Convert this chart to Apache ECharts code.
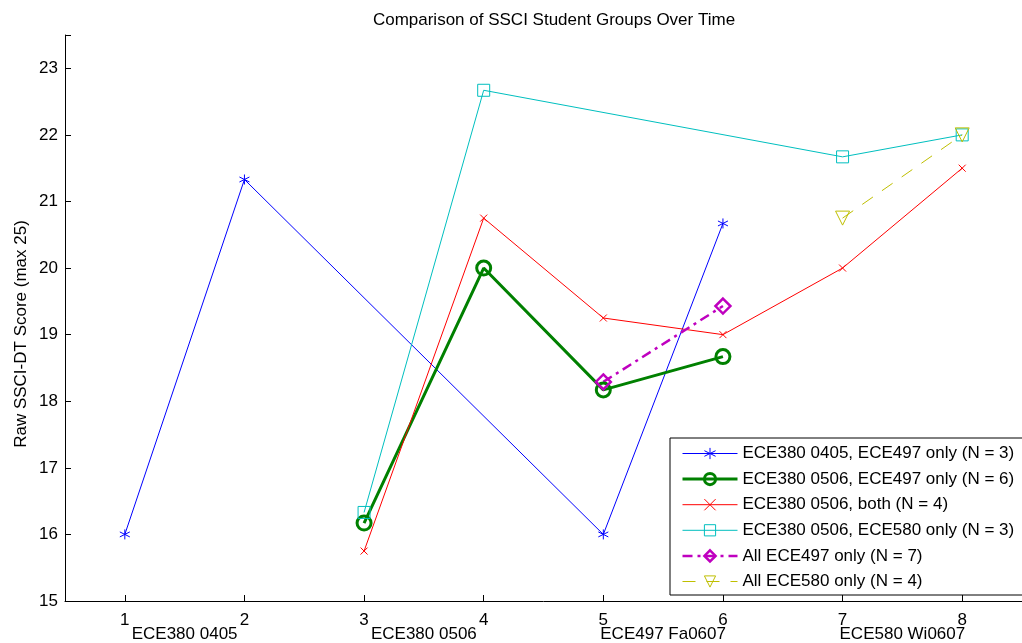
<!DOCTYPE html>
<html>
<head>
<meta charset="utf-8">
<script src="https://cdn.jsdelivr.net/npm/echarts@6/dist/echarts.min.js"></script>
<style>html,body{margin:0;padding:0;background:#fff}#c{width:1022px;height:643px}</style>
</head>
<body>
<div id="c"></div>
<script>
const xTicks = [1, 2, 3, 4, 5, 6, 7, 8];
const periodPositions = [1.5, 3.5, 5.5, 7.5];
const periodLabels = ['ECE380 0405', 'ECE380 0506', 'ECE497 Fa0607', 'ECE580 Wi0607'];
const titleText = 'Comparison of SSCI Student Groups Over Time';
const yName = 'Raw SSCI-DT Score (max 25)';
const seriesNames = [
  'ECE380 0405, ECE497 only (N = 3)',
  'ECE380 0506, ECE497 only (N = 6)',
  'ECE380 0506, both (N = 4)',
  'ECE380 0506, ECE580 only (N = 3)',
  'All ECE497 only (N = 7)',
  'All ECE580 only (N = 4)'
];
const s1x = [1, 2, 5, 6];       const s1y = [16, 21.33, 16, 20.67];
const s2x = [3, 4, 5, 6];       const s2y = [16.17, 20, 18.17, 18.67];
const s3x = [3, 4, 5, 6, 7, 8]; const s3y = [15.75, 20.75, 19.25, 19, 20, 21.5];
const s4x = [3, 4, 7, 8];       const s4y = [16.33, 22.67, 21.67, 22];
const s5x = [5, 6];             const s5y = [18.29, 19.43];
const s6x = [7, 8];             const s6y = [20.75, 22];

const pair = (xs, ys) => xs.map((x, i) => [x, ys[i]]);
const asterisk = 'path://M0,-10L0,10M-8.66,-5L8.66,5M-8.66,5L8.66,-5';
const cross = 'path://M-10,-10L10,10M-10,10L10,-10';

function mk(name, data, color, width, symbol, size, dash, extra) {
  return Object.assign({
    name: name, type: 'line', data: data,
    symbol: symbol, symbolSize: size,
    lineStyle: {color: color, width: width, type: dash},
    itemStyle: {color: 'rgba(255,255,255,0)', borderColor: color, borderWidth: width},
    emphasis: {disabled: true},
    z: 3
  }, extra || {});
}

const chart = echarts.init(document.getElementById('c'), null, {renderer: 'canvas'});
const font = 'Liberation Sans, Arial, Helvetica, sans-serif';
const FS = 17;
chart.setOption({
  animation: false,
  backgroundColor: '#fff',
  textStyle: {fontFamily: font},
  title: {
    text: titleText,
    left: 549, top: 7, textAlign: 'center',
    textStyle: {fontSize: FS, fontWeight: 'normal', color: '#000', fontFamily: font}
  },
  grid: {left: 65, top: 35, width: 960, height: 567, containLabel: false},
  legend: {
    orient: 'vertical', left: 670, top: 438,
    padding: [7, 40, 5, 11],
    itemWidth: 55, itemHeight: 14, itemGap: 8.6,
    backgroundColor: '#fff', borderColor: '#000', borderWidth: 1,
    lineStyle: {width: 'inherit'},
    itemStyle: {borderWidth: 'inherit'},
    textStyle: {fontSize: FS, color: '#000', fontFamily: font},
    data: seriesNames
  },
  graphic: [{
    type: 'text', x: 21, y: 334, rotation: Math.PI / 2,
    style: {text: yName, font: FS + 'px ' + font, fill: '#000', align: 'center', verticalAlign: 'middle'}
  }],
  xAxis: [{
    type: 'value', min: 0.5, max: 8.5,
    axisLine: {show: true, onZero: false, lineStyle: {color: '#000', width: 1}},
    axisTick: {show: true, inside: true, length: 6, customValues: xTicks, lineStyle: {color: '#000'}},
    axisLabel: {customValues: xTicks, color: '#000', fontSize: FS, margin: 11, fontFamily: font},
    splitLine: {show: false}
  }, {
    type: 'value', min: 0.5, max: 8.5, position: 'bottom',
    axisLine: {show: false}, axisTick: {show: false}, splitLine: {show: false},
    axisLabel: {
      customValues: periodPositions, color: '#000', fontSize: FS, margin: 25, fontFamily: font,
      formatter: v => { const i = periodPositions.indexOf(v); return i >= 0 ? periodLabels[i] : ''; }
    }
  }],
  yAxis: {
    type: 'value', min: 15, max: 23.5, interval: 1,
    axisLine: {show: true, onZero: false, lineStyle: {color: '#000', width: 1}},
    axisTick: {show: true, inside: true, length: 6, lineStyle: {color: '#000'}},
    axisLabel: {color: '#000', fontSize: FS, margin: 7, fontFamily: font,
      formatter: v => Number.isInteger(v) ? String(v) : ''},
    splitLine: {show: false}
  },
  series: [
    mk(seriesNames[0], pair(s1x, s1y), '#0000ff', 1, asterisk, 10, 'solid'),
    mk(seriesNames[1], pair(s2x, s2y), '#008000', 3, 'circle', 14, 'solid'),
    mk(seriesNames[2], pair(s3x, s3y), '#ff0000', 1, cross, 7, 'solid'),
    mk(seriesNames[3], pair(s4x, s4y), '#00bfbf', 1, 'rect', 12, 'solid'),
    mk(seriesNames[4], pair(s5x, s5y), '#bf00bf', 2.5, 'diamond', 15, [10, 5, 3, 5]),
    mk(seriesNames[5], pair(s6x, s6y), '#bfbf00', 1, 'triangle', 14, [13, 11], {symbolRotate: 180})
  ]
});
</script>
</body>
</html>
